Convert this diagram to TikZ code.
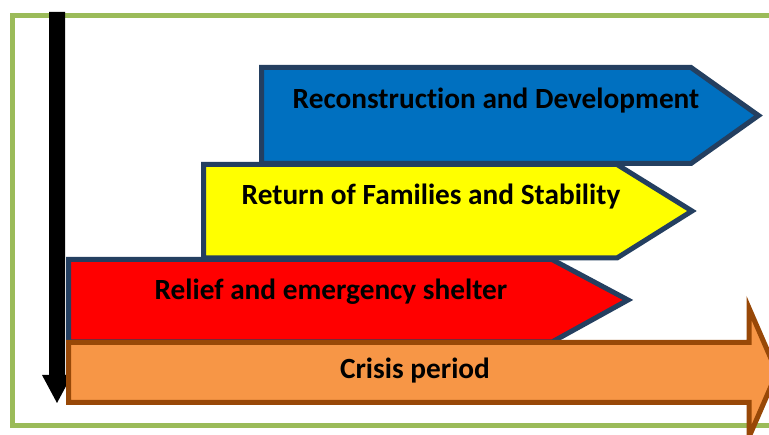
\documentclass[tikz,border=0pt]{standalone}
\usepackage{fontspec}
\setmainfont[Ligatures={NoCommon}]{Carlito}
\definecolor{frameg}{HTML}{9BBB59}
\definecolor{bluef}{HTML}{0070C0}
\definecolor{darkb}{HTML}{243F60}
\definecolor{orangef}{HTML}{F79646}
\definecolor{brownb}{HTML}{984807}
\definecolor{yellowf}{HTML}{FFFF00}
\tikzset{
  phase/.style={draw=darkb, line width=5pt, line join=miter},
  crisis/.style={draw=brownb, fill=orangef, line width=5pt, line join=miter},
  lbl/.style={anchor=base, font=\bfseries\fontsize{29.3}{32}\selectfont, text=black, inner sep=0pt}
}
\begin{document}
\begin{tikzpicture}[x=1pt,y=-1pt]
\useasboundingbox (0,0) rectangle (769,435);
\fill[white] (0,0) rectangle (769,435);
% frame
\draw[frameg, line width=5pt] (12.5,15.5) rectangle (790,425.5);
% time arrow
\fill[black] (49,12) -- (65,12) -- (65,375) -- (72,375) -- (57,403) -- (42,375) -- (49,375) -- cycle;
% phases
\draw[phase, fill=bluef] (261.5,67.5) -- (691,67.5) -- (758.5,115.5) -- (691,163.5) -- (261.5,163.5) -- cycle;
\draw[phase, fill=yellowf] (203.5,164.5) -- (617,164.5) -- (692,211) -- (617,258) -- (203.5,258) -- cycle;
\draw[phase, fill=red] (68.5,259.5) -- (552,259.5) -- (628,300) -- (552,342) -- (68.5,342) -- cycle;
\draw[crisis] (68.5,342.5) -- (749,342.5) -- (749,308) -- (777,372.5) -- (749,437) -- (749,402.5) -- (68.5,402.5) -- cycle;
% labels
\node[lbl] (t1) at (496,108.5) {Reconstruction and Development};
\node[lbl] (t2) at (431,204.5) {Return of Families and Stability};
\node[lbl] (t3) at (331,299.5) {Relief and emergency shelter};
\node[lbl] (t4) at (415,378.5) {Crisis period};
\end{tikzpicture}
\end{document}
